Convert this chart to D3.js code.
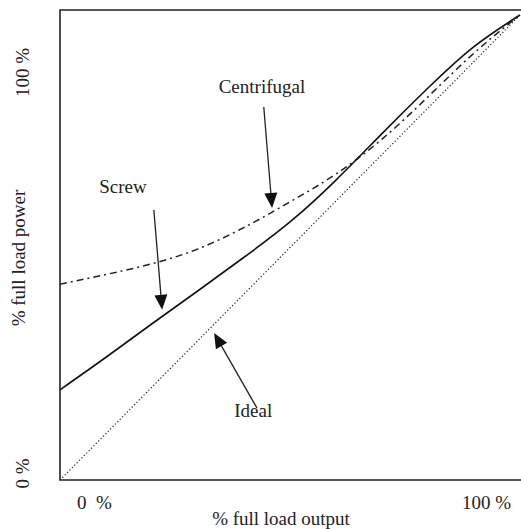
<!DOCTYPE html>
<html>
<head>
<style>
  body { margin: 0; background: #fff; overflow: hidden; }
  svg { display: block; }
  text { font-family: "Liberation Serif", "DejaVu Serif", serif; fill: #222; }
</style>
</head>
<body>
<script src="https://cdnjs.cloudflare.com/ajax/libs/d3/7.8.5/d3.min.js"></script>
<script>
// fraction of full load output (x) and power (y)
var output = [0, 0.1, 0.2, 0.3, 0.4, 0.5, 0.6, 0.7, 0.8, 0.9, 1.0];
var screw = [0.194, 0.264, 0.336, 0.407, 0.479, 0.555, 0.645, 0.745, 0.843, 0.932, 1.0];
var centrifugal = [0.421, 0.442, 0.465, 0.497, 0.543, 0.598, 0.658, 0.733, 0.824, 0.918, 1.0];
var ideal = [0, 1];

var xTicks = [0, 1];
var xTickLabels = ["0  %", "100 %"];
var yTicks = [0, 1];
var yTickLabels = ["0 %", "100 %"];

// label text, label point, arrow start, arrow tip (data units)
var notes = [
  { text: "Centrifugal", lx: 0.439, ly: 0.832, x1: 0.443, y1: 0.802, x2: 0.461, y2: 0.585 },
  { text: "Screw", lx: 0.137, ly: 0.617, x1: 0.204, y1: 0.581, x2: 0.222, y2: 0.366 },
  { text: "Ideal", lx: 0.42, ly: 0.135, x1: 0.428, y1: 0.155, x2: 0.335, y2: 0.316 }
];

var W = 521, H = 529;
var boxLeft = 60, boxTop = 10, boxBottom = 480, boxRight = 521;

var x = d3.scaleLinear().domain([0, 1]).range([60, 520]);
var y = d3.scaleLinear().domain([0, 1]).range([480, 15]);

var svg = d3.select("body").append("svg")
    .attr("width", W)
    .attr("height", H);

// frame: left, top and bottom sides; the right side is off the picture
svg.append("path")
    .attr("d", "M" + boxRight + "," + boxTop + "H" + boxLeft + "V" + boxBottom + "H" + boxRight)
    .attr("fill", "none")
    .attr("stroke", "#222")
    .attr("stroke-width", 1.6);

var line = d3.line()
    .x(function (d) { return x(d[0]); })
    .y(function (d) { return y(d[1]); })
    .curve(d3.curveNatural);

// ideal (dotted)
svg.append("path")
    .datum(ideal.map(function (v) { return [v, v]; }))
    .attr("d", line)
    .attr("fill", "none")
    .attr("stroke", "#222")
    .attr("stroke-width", 1.2)
    .attr("stroke-dasharray", "1.2,2.2");

// centrifugal (dash-dot)
svg.append("path")
    .datum(output.map(function (v, i) { return [v, centrifugal[i]]; }))
    .attr("d", line)
    .attr("fill", "none")
    .attr("stroke", "#222")
    .attr("stroke-width", 1.5)
    .attr("stroke-dasharray", "7,4,2,4");

// screw (solid)
svg.append("path")
    .datum(output.map(function (v, i) { return [v, screw[i]]; }))
    .attr("d", line)
    .attr("fill", "none")
    .attr("stroke", "#111")
    .attr("stroke-width", 1.6);

// axes: only tick labels, no lines
var xAxis = svg.append("g")
    .attr("transform", "translate(0," + boxBottom + ")")
    .call(d3.axisBottom(x).tickValues(xTicks).tickSize(0)
        .tickFormat(function (d, i) { return xTickLabels[i]; }));
xAxis.select(".domain").remove();
xAxis.selectAll("text")
    .attr("font-size", 19)
    .attr("font-family", "Liberation Serif")
    .attr("fill", "#222")
    .style("white-space", "pre")
    .attr("y", 29).attr("dy", 0)
    .attr("dx", function (d) { return d === 0 ? 34 : -34; });

var yAxis = svg.append("g")
    .attr("transform", "translate(" + boxLeft + ",0)")
    .call(d3.axisLeft(y).tickValues(yTicks).tickSize(0)
        .tickFormat(function (d, i) { return yTickLabels[i]; }));
yAxis.select(".domain").remove();
yAxis.selectAll("text")
    .attr("font-size", 19)
    .attr("font-family", "Liberation Serif")
    .attr("fill", "#222")
    .attr("text-anchor", "middle")
    .attr("transform", "rotate(-90)")
    .attr("dy", 0)
    .attr("y", -31)
    .attr("x", function (d) { return d === 0 ? 7 : -57; });

// axis titles
svg.append("text")
    .attr("x", 281).attr("y", 525)
    .attr("text-anchor", "middle")
    .attr("font-size", 19)
    .text("% full load output");

svg.append("text")
    .attr("transform", "translate(25,258) rotate(-90)")
    .attr("text-anchor", "middle")
    .attr("font-size", 19)
    .text("% full load power");

// annotations with arrows
notes.forEach(function (n) {
  svg.append("text")
      .attr("x", x(n.lx)).attr("y", y(n.ly))
      .attr("text-anchor", "middle")
      .attr("font-size", 19)
      .text(n.text);

  var ax = x(n.x1), ay = y(n.y1), bx = x(n.x2), by = y(n.y2);
  var dx = bx - ax, dy = by - ay, len = Math.sqrt(dx * dx + dy * dy);
  var ux = dx / len, uy = dy / len;
  var headLen = 15, headW = 6.5;
  var baseX = bx - ux * headLen, baseY = by - uy * headLen;

  svg.append("line")
      .attr("x1", ax).attr("y1", ay)
      .attr("x2", baseX).attr("y2", baseY)
      .attr("stroke", "#222")
      .attr("stroke-width", 1.3);

  svg.append("path")
      .attr("d", "M" + bx + "," + by +
                 "L" + (baseX - uy * headW) + "," + (baseY + ux * headW) +
                 "L" + (baseX + uy * headW) + "," + (baseY - ux * headW) + "Z")
      .attr("fill", "#111");
});
</script>
</body>
</html>
